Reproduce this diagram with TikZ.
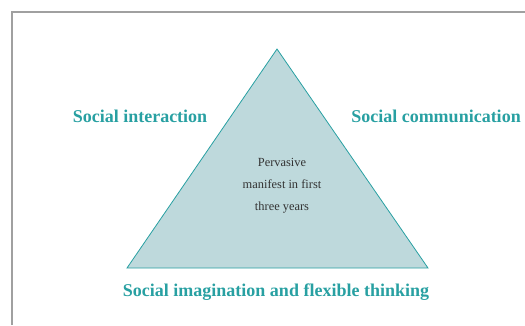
\documentclass[tikz,border=0pt]{standalone}
\usepackage{fontspec}
\setmainfont{Liberation Serif}
\usepackage{tikz}
\usetikzlibrary{positioning}
\definecolor{tealtext}{RGB}{40,160,162}
\definecolor{trifill}{RGB}{190,217,220}
\definecolor{framegrey}{RGB}{160,160,160}
\tikzset{
	corner/.style={font=\fontsize{18}{21}\selectfont\bfseries, text=tealtext, inner sep=0pt},
	core/.style={font=\fontsize{12.4}{22}\selectfont, text=black!80, align=center, inner sep=0pt},
	tri/.style={draw=tealtext, fill=trifill, line width=0.8pt, line join=miter},
}

\begin{document}
\begin{tikzpicture}[x=1pt, y=-1pt]
	\useasboundingbox (0,0) rectangle (525,325);
	\draw[framegrey, line width=1.3pt] (12,325) -- (12,12) -- (525,12);
	\coordinate (apex) at (277,49);
	\coordinate (left) at (127,268);
	\coordinate (right) at (428,268);
	\draw[tri] (apex) -- (left) -- (right) -- cycle;
	\node[core] (mid) at (282,186) {Pervasive\\manifest in first\\three years};
	\node[corner] (inter) at (140,116) {Social interaction};
	\node[corner] (comm) at (436,116) {Social communication};
	\node[corner] (imag) at (276,292) {Social imagination and flexible thinking};
\end{tikzpicture}
\end{document}
